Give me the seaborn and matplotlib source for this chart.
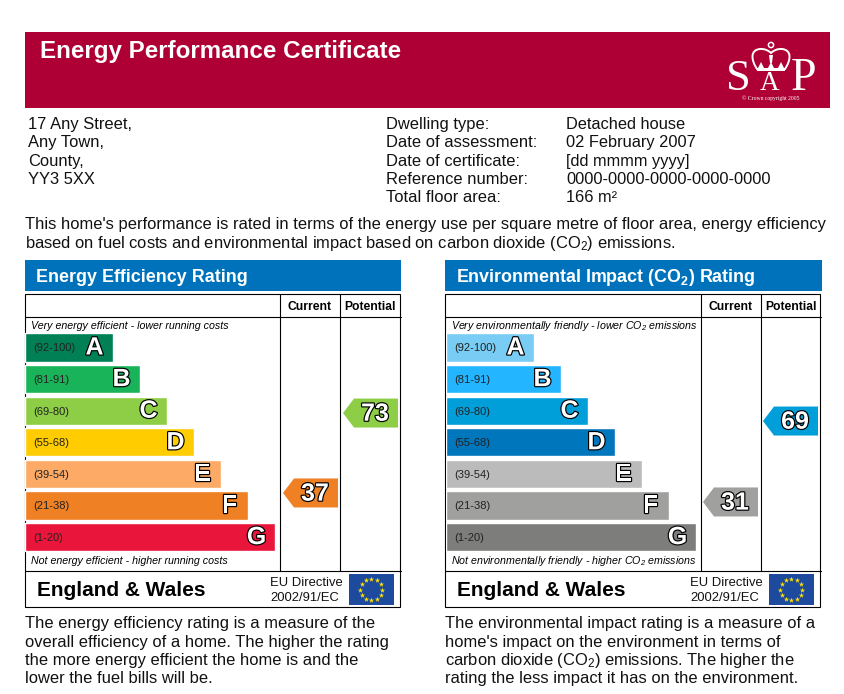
import numpy as np
import matplotlib
matplotlib.use("Agg")
import matplotlib.pyplot as plt
import matplotlib.patheffects as pe
from matplotlib.patches import Rectangle, Polygon, Circle, PathPatch
from matplotlib.path import Path
import seaborn as sns

W, H = 845, 694
bands = ["A", "B", "C", "D", "E", "F", "G"]
ranges = ["(92-100)", "(81-91)", "(69-80)", "(55-68)", "(39-54)", "(21-38)", "(1-20)"]
bar_lengths = [88, 115, 142, 169, 196, 223, 250]
energy_colors = ["#008054", "#19B459", "#8DCE46", "#FFCC00", "#FCAA65", "#EF8023", "#E9153B"]
env_colors = ["#79CCF4", "#23B5FF", "#009FDA", "#0076BC", "#BBBBBB", "#A0A09E", "#7D7E7C"]
energy_current, energy_potential = 37, 73
env_current, env_potential = 31, 69

address = ["17 Any Street,", "Any Town,", "County,", "YY3 5XX"]
info_labels = ["Dwelling type:", "Date of assessment:", "Date of certificate:", "Reference number:", "Total floor area:"]
info_values = ["Detached house", "02 February 2007", "[dd mmmm yyyy]", "0000-0000-0000-0000-0000", "166 m²"]
intro = ["This home's performance is rated in terms of the energy use per square metre of floor area, energy efficiency",
         "based on fuel costs and environmental impact based on carbon dioxide (CO$_2$) emissions."]
energy_notes = ["The energy efficiency rating is a measure of the", "overall efficiency of a home. The higher the rating",
                "the more energy efficient the home is and the", "lower the fuel bills will be."]
env_notes = ["The environmental impact rating is a measure of a", "home's impact on the environment in terms of",
             "carbon dioxide (CO$_2$) emissions. The higher the", "rating the less impact it has on the environment."]

sns.set_theme(style="white")
plt.rcParams.update({
    "font.family": ["Liberation Sans", "DejaVu Sans"],
    "mathtext.fontset": "custom", "mathtext.rm": "Liberation Sans",
    "mathtext.bf": "Liberation Sans:bold", "mathtext.it": "Liberation Sans:italic",
    "mathtext.default": "regular",
})
fig = plt.figure(figsize=(W / 100, H / 100), dpi=100, facecolor="white")

def px_axes(left, top, width, height, z=1):
    return fig.add_axes([left / W, 1 - (top + height) / H, width / W, height / H], zorder=z)

base = px_axes(0, 0, W, H)
base.set_xlim(0, W); base.set_ylim(H, 0); base.axis("off")

BODY = 11.9
LINE = 0.8

def T(x, y, s, size=BODY, **kw):
    kw.setdefault("color", "#111111")
    kw.setdefault("va", "baseline")
    return base.text(x, y, s, fontsize=size, zorder=6, **kw)

def box(x0, y0, x1, y1, color, z=1):
    base.add_patch(Rectangle((x0, y0), x1 - x0, y1 - y0, fc=color, ec="none", zorder=z))

# header
box(25, 32, 830, 108, "#AE0034")
T(40, 58, "Energy Performance Certificate", size=17.4, weight="bold", color="white")

# SAP logo
T(726, 90, "S", size=32, family="Liberation Serif", color="white")
T(760, 90, "A", size=19.5, family="Liberation Serif", color="white")
T(791, 90, "P", size=33, family="Liberation Serif", color="white")
T(771, 99.5, "© Crown copyright 2005", size=4.1, family="Liberation Serif", color="white", ha="center")
crown = Path([(757, 69), (751, 60), (750, 50), (760, 49), (765, 48.5), (769, 51), (771, 53),
              (773, 51), (777, 48.5), (782, 49), (792, 50), (791, 60), (785, 69), (757, 69)],
             [Path.MOVETO] + [Path.CURVE4] * 12 + [Path.CLOSEPOLY])
base.add_patch(PathPatch(crown, fc="none", ec="white", lw=1.4, zorder=6))
base.add_patch(Rectangle((757, 67.5), 28, 3, fc="white", ec="none", zorder=6))
base.add_patch(Circle((771, 45), 2.6, fc="none", ec="white", lw=1.1, zorder=6))
base.add_patch(Polygon([(769, 55), (773, 55), (772, 63), (770, 63)], fc="white", ec="none", zorder=6))
for cx in (761, 771, 781):
    base.add_patch(Polygon([(cx - 3, 68), (cx, 62), (cx + 3, 68)], fc="white", ec="none", zorder=6))

# address block
for y, s in zip([129, 147, 166, 184], address):
    T(28, y, s)
for y, a, b in zip([129, 147, 166, 184, 202], info_labels, info_values):
    T(386, y, a)
    T(566, y, b, size=11.75)
for y, s in zip([229, 248], intro):
    T(25, y, s)

def eu_flag(x0, y0, x1, y1):
    box(x0, y0, x1, y1, "#1D4A9C", 5)
    cx, cy = (x0 + x1) / 2, (y0 + y1) / 2
    ang = np.arange(12) * np.pi / 6
    base.scatter(cx + 11 * np.cos(ang), cy + 10.5 * np.sin(ang), marker="*", s=16, color="#FFE100", lw=0, zorder=6)

def panel(x0, bar_x, title, colors, current, potential, slope, intercept,
          top_note, bottom_note, notes, eu_x, col_off, blue_w, arrow_off):
    x1 = x0 + 376
    col1, col2 = x0 + col_off, x0 + col_off + 60
    box(x0, 260, x0 + blue_w, 291, "#0072BC")
    T(x0 + 11, 282, title, size=12.85, weight="bold", color="white")

    # table frame
    base.add_patch(Rectangle((x0 + .5, 294), 375, 313, fc="none", ec="black", lw=LINE, zorder=4))
    base.plot([x0, x1], [317, 317], color="black", lw=LINE, zorder=4)
    base.plot([x0, x1], [571, 571], color="black", lw=LINE, zorder=4)
    for c in (col1, col2):
        base.plot([c + .5, c + .5], [294, 571], color="black", lw=LINE, zorder=4)
    T((col1 + col2) / 2, 310, "Current", size=8.7, weight="bold", ha="center", color="black")
    T((col2 + x1) / 2, 310, "Potential", size=8.7, weight="bold", ha="center", color="black")
    T(x0 + 6.5, 329, top_note, size=7.7, style="italic", color="black")
    T(x0 + 6, 564.5, bottom_note, size=7.7, style="italic", color="black")

    # rating bars, through seaborn
    ax = px_axes(bar_x, 331.7, 255, 221.2, 2)
    sns.barplot(x=bar_lengths, y=bands, hue=bands, palette=colors, legend=False,
                width=0.89, saturation=1, orient="h", ax=ax)
    ax.set_xlim(0, 255)
    ax.axis("off")
    ax.patch.set_alpha(0)
    for i, (band, rng, length) in enumerate(zip(bands, ranges, bar_lengths)):
        ax.text(8, i + 0.03, rng, fontsize=8, va="center", ha="left", color="#222222")
        ax.text(length - 19, i, band, fontsize=18, weight="bold", va="center", ha="center",
                color="white", path_effects=[pe.withStroke(linewidth=1.7, foreground="black")])

    # score arrows on their own score scale
    sc = px_axes(0, 0, W, H, 3)
    sc.set_xlim(0, W)
    sc.set_ylim((intercept - H) / slope, intercept / slope)
    sc.axis("off"); sc.patch.set_alpha(0)
    for score, left in ((current, col1 + arrow_off), (potential, col2 + arrow_off)):
        idx = [92, 81, 69, 55, 39, 21, 1]
        col = colors[next(i for i, v in enumerate(idx) if score >= v)]
        h = 14.5 / slope
        right = left + 55
        sc.add_patch(Polygon([(left, score), (left + 11, score + h), (right, score + h),
                              (right, score - h), (left + 11, score - h)], fc=col, ec="none"))
        sc.text(left + 32, score - 0.3, str(score), fontsize=18, weight="bold", ha="center", va="center",
                color="white", path_effects=[pe.withStroke(linewidth=1.7, foreground="black")])

    # footer of the table
    T(x0 + 12, 596, "England & Wales", size=15, weight="bold", color="black")
    T(eu_x, 586, "EU Directive", size=9.4, color="#111111")
    T(eu_x, 601, "2002/91/EC", size=9.4, color="#111111")
    eu_flag(x0 + 324, 574, x0 + 369, 605)

    for y, s in zip([628, 647, 665, 683], notes):
        T(x0, y, s)

panel(25, 25.5, "Energy Efficiency Rating", energy_colors, energy_current, energy_potential, 2.22, 575.1,
      "Very energy efficient - lower running costs", "Not energy efficient - higher running costs", energy_notes, 270, 255, 376, 3)
panel(445, 446.5, "Environmental Impact (CO$_2$) Rating", env_colors, env_current, env_potential, 2.13, 568,
      "Very environmentally friendly - lower CO$_2$ emissions", "Not environmentally friendly - higher CO$_2$ emissions", env_notes, 690, 256, 377, 2)

fig.savefig("out.png", dpi=100, facecolor="white")
